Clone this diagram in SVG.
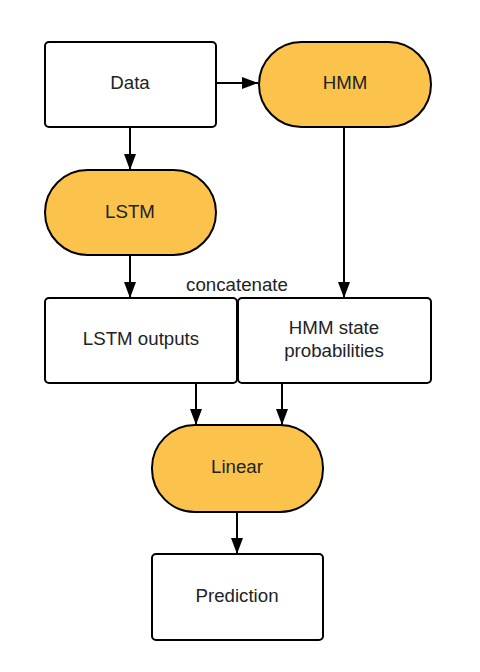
<svg xmlns="http://www.w3.org/2000/svg" width="480" height="672" viewBox="0 0 480 672">
<defs>
<style>
.box{fill:#ffffff;stroke:#000;stroke-width:2}
.term{fill:#FBC34B;stroke:#000;stroke-width:2}
.lbl{font-family:"Liberation Sans",Arial,sans-serif;font-size:18.7px;fill:#222;text-anchor:middle}
.edge{stroke:#000;stroke-width:2;fill:none;marker-end:url(#ah)}
</style>
<marker id="ah" viewBox="0 0 16 12" refX="16" refY="6" markerWidth="16" markerHeight="12" markerUnits="userSpaceOnUse" orient="auto">
<path d="M0,0 L16,6 L0,12 Z" fill="#000"/>
</marker>
</defs>
<rect width="480" height="672" fill="#fff"/>
<g id="connectors">
<line class="edge" x1="216" y1="83" x2="258" y2="83"/>
<line class="edge" x1="130" y1="127" x2="130" y2="170"/>
<line class="edge" x1="130" y1="255" x2="130" y2="298"/>
<line class="edge" x1="344" y1="127" x2="344" y2="298"/>
<line class="edge" x1="196" y1="383" x2="196" y2="425"/>
<line class="edge" x1="282" y1="383" x2="282" y2="425"/>
<line class="edge" x1="237" y1="512" x2="237" y2="554"/>
</g>
<g id="data"><rect class="box" x="45" y="42" width="171" height="85" rx="4"/><text class="lbl" x="130" y="89">Data</text></g>
<g id="hmm"><rect class="term" x="259" y="42" width="172" height="85" rx="42.5"/><text class="lbl" x="345" y="89">HMM</text></g>
<g id="lstm"><rect class="term" x="45" y="170" width="171" height="85" rx="42.5"/><text class="lbl" x="130" y="218">LSTM</text></g>
<text class="lbl" x="237" y="291">concatenate</text>
<g id="lstm-outputs"><rect class="box" x="45" y="298" width="192" height="85" rx="4"/><text class="lbl" x="141" y="345">LSTM outputs</text></g>
<g id="hmm-state"><rect class="box" x="238" y="298" width="193" height="85" rx="4"/><text class="lbl" x="334" y="334">HMM state</text><text class="lbl" x="334" y="357">probabilities</text></g>
<g id="linear"><rect class="term" x="152" y="425" width="171" height="87" rx="43"/><text class="lbl" x="237" y="473">Linear</text></g>
<g id="prediction"><rect class="box" x="152" y="554" width="171" height="86" rx="4"/><text class="lbl" x="237" y="602">Prediction</text></g>
</svg>
